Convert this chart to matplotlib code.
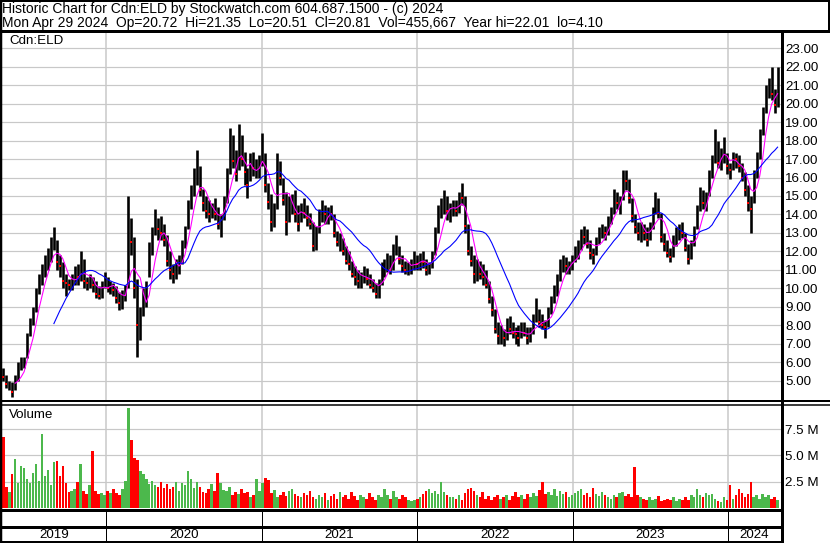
import numpy as np
import pandas as pd
import matplotlib
matplotlib.use('Agg')
import matplotlib.pyplot as plt

plt.rcParams['font.family'] = ['Liberation Sans', 'DejaVu Sans']

# weekly bars, May 2019 - Apr 2024
week_hi = [5.7, 5.3, 5.0, 4.9, 5.3, 6.0, 6.3, 6.3, 7.6, 8.4,
           9.0, 10.0, 10.8, 11.3, 11.8, 12.2, 12.8, 13.3, 12.6, 11.8,
           11.4, 10.8, 10.5, 10.8, 11.2, 11.3, 12.0, 11.6, 10.6, 10.8,
           10.6, 10.4, 10.1, 10.4, 10.9, 10.6, 10.4, 10.3, 10.1, 9.8,
           9.9, 10.2, 15.0, 13.8, 12.8, 10.5, 9.0, 10.0, 10.4, 12.5,
           13.3, 14.3, 13.8,
           13.9, 13.5, 12.9, 12.0, 11.3, 11.6, 11.8, 12.6, 13.4, 14.8,
           15.6, 16.5, 17.5, 16.6, 15.4, 15.0, 14.8, 14.6, 14.9, 14.4,
           14.0, 15.0, 16.5, 18.7, 18.3, 17.5, 18.9, 18.3, 17.4, 16.5,
           17.3, 17.4, 17.0, 17.2, 18.4, 17.3, 15.7, 15.1, 14.6, 17.3,
           16.9, 16.0, 15.2, 15.0, 15.1, 15.3, 14.5, 14.6, 14.9, 14.5, 14.1, 13.6,
           13.4, 14.3, 14.8, 14.5, 14.4, 14.5, 14.0, 13.1, 13.0, 12.7,
           12.3, 12.0, 11.5, 11.2, 11.0, 10.9, 11.2, 11.1, 10.8, 10.5,
           10.3, 10.5, 11.4, 11.6, 11.9, 11.8, 12.4, 12.9, 12.3, 11.8,
           11.5, 11.4, 11.6, 12.0, 11.8, 11.9, 12.0, 11.6, 11.4, 12.0,
           13.3, 14.5, 14.9, 15.3, 15.0, 14.6, 14.8, 14.8, 15.2, 15.7, 15.0, 13.5,
           12.3, 11.8, 11.6, 11.5, 11.3, 11.0, 10.4, 9.6, 8.9, 8.2,
           8.0, 7.8, 8.4, 8.5, 8.2, 7.9, 8.0, 8.2, 8.2, 7.9,
           7.9, 8.6, 9.5, 8.9, 8.6, 8.3, 9.0, 9.6, 10.2, 10.8,
           11.6, 11.8, 11.7, 11.5, 11.8, 12.3, 12.6, 13.2, 13.4, 13.2,
           12.6, 12.2, 12.8, 13.3, 13.5, 13.4, 13.9, 14.4, 15.4, 15.2, 15.0, 16.4,
           16.4, 15.9, 14.9, 14.0, 13.6, 13.6, 13.5, 13.3, 13.6, 14.4,
           15.2, 14.9, 14.1, 13.0, 12.6, 12.2, 12.9, 13.3, 13.5, 13.6,
           13.0, 12.4, 12.6, 13.4, 14.5, 15.5, 15.3, 15.2, 16.4, 17.2,
           18.6, 18.0, 17.6, 18.2, 17.3, 16.8, 17.4, 17.3, 17.2, 16.8,
           16.3, 15.6, 15.0, 16.4, 17.4, 18.6, 19.8, 21.0, 21.4, 22.0, 20.8, 22.0]

week_lo = [5.0, 4.6, 4.5, 4.1, 4.5, 5.0, 5.6, 5.7, 6.2, 7.4,
           8.0, 8.7, 9.7, 10.2, 10.6, 11.0, 11.4, 12.1, 11.0, 10.6,
           10.0, 9.6, 9.9, 9.9, 10.2, 10.2, 10.4, 10.0, 9.9, 10.0,
           9.8, 9.5, 9.4, 9.5, 10.0, 9.8, 9.7, 9.6, 9.2, 8.8,
           8.9, 9.3, 10.0, 11.8, 9.5, 6.3, 7.2, 8.5, 9.0, 10.6,
           11.8, 12.9, 12.6,
           12.6, 12.3, 11.2, 10.5, 10.3, 10.5, 10.8, 11.3, 12.2, 13.2,
           14.3, 15.0, 15.6, 15.0, 14.2, 13.8, 13.6, 13.8, 13.7, 13.2,
           12.8, 13.7, 14.6, 16.2, 16.5, 15.8, 16.4, 16.6, 15.6, 14.9,
           15.8, 16.1, 16.0, 16.0, 16.6, 15.2, 14.3, 13.1, 13.3, 14.3,
           15.6, 14.5, 12.9, 13.6, 14.0, 13.6, 13.1, 13.6, 13.8, 13.4, 13.2, 12.0,
           12.1, 13.0, 13.6, 13.5, 13.5, 13.7, 12.8, 12.3, 12.0, 11.8,
           11.3, 11.0, 10.6, 10.2, 10.0, 10.0, 10.3, 10.2, 10.0, 9.8,
           9.5, 9.5, 10.2, 10.6, 10.9, 10.8, 11.0, 11.8, 11.3, 10.9,
           10.8, 10.7, 10.8, 11.0, 11.0, 11.0, 11.1, 10.7, 10.8, 11.1,
           11.8, 13.0, 13.8, 14.0, 13.7, 13.6, 13.9, 13.9, 14.1, 14.5, 13.0, 11.8,
           11.2, 10.3, 10.4, 10.5, 10.2, 10.0, 9.2, 8.5, 7.6, 7.0,
           7.0, 6.9, 7.2, 7.5, 7.3, 7.0, 6.9, 7.3, 7.4, 7.0,
           7.1, 7.5, 8.2, 7.9, 7.8, 7.3, 7.9, 8.6, 9.2, 9.6,
           10.4, 10.9, 10.8, 10.8, 11.0, 11.4, 11.6, 12.1, 12.4, 12.2,
           11.6, 11.3, 11.8, 12.4, 12.7, 12.6, 12.9, 13.5, 14.0, 14.3, 14.0, 14.8,
           15.3, 14.6, 13.6, 13.0, 12.6, 12.5, 12.6, 12.3, 12.6, 13.2,
           14.0, 13.8, 12.5, 12.0, 11.7, 11.4, 11.7, 12.3, 12.6, 12.7,
           12.0, 11.3, 11.6, 12.3, 13.2, 14.2, 14.3, 14.2, 15.0, 16.0,
           16.8, 16.5, 16.4, 16.8, 16.2, 15.9, 16.4, 16.5, 16.3, 15.8,
           15.0, 14.2, 13.0, 14.6, 16.0, 17.0, 18.3, 19.5, 20.3, 20.2, 19.5, 19.8]

week_cl = [5.2, 4.8, 4.8, 4.4, 5.1, 5.8, 5.9, 6.2, 7.5, 8.1,
           8.8, 9.8, 10.3, 10.8, 11.5, 11.6, 12.5, 12.5, 11.4, 11.2,
           10.4, 10.3, 10.2, 10.5, 10.9, 10.6, 11.6, 10.4, 10.3, 10.4,
           10.2, 9.7, 9.6, 10.2, 10.6, 10.0, 10.1, 9.9, 9.5, 9.2,
           9.5, 9.9, 13.5, 12.5, 10.0, 8.0, 8.8, 9.5, 9.9, 12.0,
           12.8, 13.4, 13.2,
           13.0, 12.6, 11.5, 11.0, 10.8, 11.2, 11.5, 12.4, 13.2, 14.5,
           15.2, 16.0, 16.2, 15.3, 14.6, 14.2, 14.0, 14.3, 14.0, 13.5,
           13.8, 14.8, 16.3, 17.8, 16.9, 16.2, 18.0, 17.0, 16.3, 15.6,
           16.9, 16.5, 16.6, 16.9, 17.5, 15.6, 14.7, 13.6, 14.4, 16.8,
           16.0, 14.8, 13.6, 14.5, 14.5, 14.0, 13.5, 14.2, 14.1, 13.8, 13.5, 12.3,
           13.0, 14.0, 14.1, 14.0, 14.1, 14.0, 13.0, 12.5, 12.6, 12.0,
           11.5, 11.3, 10.8, 10.6, 10.4, 10.6, 10.9, 10.5, 10.2, 10.0,
           9.7, 10.3, 11.1, 11.2, 11.6, 11.0, 12.0, 12.2, 11.6, 11.2,
           11.0, 11.1, 11.3, 11.8, 11.3, 11.6, 11.4, 11.0, 11.2, 11.8,
           13.0, 14.2, 14.3, 14.5, 14.2, 14.3, 14.5, 14.2, 15.0, 14.9, 13.4, 12.0,
           11.5, 10.8, 11.0, 10.8, 10.6, 10.2, 9.4, 8.8, 7.8, 7.4,
           7.4, 7.3, 8.1, 7.8, 7.6, 7.5, 7.3, 7.9, 7.6, 7.3,
           7.6, 8.3, 8.6, 8.2, 8.0, 7.9, 8.8, 9.3, 9.9, 10.5,
           11.2, 11.4, 11.2, 11.3, 11.6, 12.0, 12.2, 12.9, 12.8, 12.4,
           11.9, 11.8, 12.6, 13.0, 13.1, 13.0, 13.7, 14.2, 15.1, 14.6, 14.8, 16.0,
           15.8, 14.9, 13.9, 13.3, 13.0, 13.2, 13.0, 12.6, 13.4, 14.0,
           14.6, 14.1, 12.8, 12.4, 11.9, 11.7, 12.6, 12.9, 13.1, 13.0,
           12.2, 11.6, 12.4, 13.2, 14.3, 15.1, 14.6, 14.9, 16.1, 17.0,
           17.8, 16.8, 17.2, 17.5, 16.6, 16.4, 17.1, 17.0, 16.6, 16.0,
           15.3, 14.6, 14.3, 16.0, 17.1, 18.4, 19.5, 20.7, 20.8, 20.5, 19.9, 20.8]

# biggest daily volume seen in each week, millions
week_vol = [6.8, 2.0, 1.5, 3.2, 4.7, 2.4, 4.0, 3.8, 2.8, 2.4, 3.3,
            4.2, 2.6, 7.0, 3.0, 3.6, 2.2, 4.4, 4.5, 3.0,
            4.0, 2.4, 1.5, 1.6, 1.8, 2.5, 4.2, 1.6, 1.3, 2.2, 5.4,
            1.6, 1.3, 1.4, 1.2, 1.6, 1.4, 1.8, 1.4, 1.2, 1.8,
            2.6, 9.5, 6.5, 4.8, 4.6, 3.5, 3.2, 2.8, 2.3,
            2.6, 2.2, 2.0, 2.5, 1.9,
            2.3, 1.8, 2.0, 2.5, 1.6, 2.4, 2.2, 3.5, 2.8, 1.9, 2.5, 2.0,
            1.5, 1.4, 1.8, 2.3, 1.6, 3.3, 2.4, 1.7, 1.6, 2.0, 1.2, 1.5,
            1.3, 1.8, 1.4, 1.5, 1.0, 1.2, 2.8, 1.6, 2.4, 2.9, 2.7, 1.4,
            1.7, 1.0, 1.2, 1.5, 1.1, 1.6, 1.8, 1.3, 1.1, 1.0, 1.4, 1.2,
            1.6, 1.0, 0.9, 1.2, 1.0, 1.4, 0.8, 1.1, 1.3, 0.9, 1.5, 1.0,
            1.2, 0.9, 1.5, 1.1, 0.8, 1.2, 1.0, 0.9, 1.4, 1.0, 0.8, 1.2,
            1.0, 1.8, 1.2, 0.9, 1.6, 1.0, 0.9, 1.2, 1.0, 0.8, 0.7, 0.8,
            0.9, 1.0, 1.3, 1.6, 1.8, 1.4, 1.6, 1.3, 2.5, 1.5, 1.2, 1.0,
            1.0, 0.9, 1.2, 0.8, 1.4, 1.8, 1.9, 1.6, 1.2, 1.0, 1.5, 0.9,
            1.1, 0.8, 1.0, 1.2, 0.9, 1.0, 1.2, 0.8, 1.1, 1.5, 1.0, 1.2,
            0.9, 1.3, 1.0, 1.4, 1.1, 1.7, 2.5, 1.3, 1.5, 1.2, 1.8, 1.1,
            1.6, 1.3, 1.5, 1.0, 1.2, 1.4, 1.6, 1.8, 1.2, 1.4, 1.0, 1.9,
            1.3, 1.1, 1.5, 1.2, 1.0, 0.9, 1.2, 1.0, 1.4, 1.5, 1.1, 1.3,
            1.0, 3.9, 1.2, 1.0, 0.9, 0.8, 1.0, 0.8, 0.9, 1.1, 0.7, 0.8,
            0.9, 0.8, 1.0, 0.7, 0.9, 0.8, 1.0, 0.8, 1.2, 1.0, 1.8, 1.2,
            1.0, 1.4, 1.2, 1.3, 0.9, 0.7, 0.6, 1.0, 0.8, 2.2, 0.9, 1.2,
            1.8, 1.4, 1.0, 1.3, 2.5, 1.0,
            1.2, 0.9, 1.3, 1.0, 1.2, 0.9, 1.0, 0.8]

years = [2019, 2020, 2021, 2022, 2023, 2024]
price_ticks = list(range(5, 24))
vol_ticks = [2.5, 5.0, 7.5]
vol_tick_labels = ['2.5 M', '5.0 M', '7.5 M']

header_1 = 'Historic Chart for Cdn:ELD by Stockwatch.com 604.687.1500 - (c) 2024'
header_2 = ('Mon Apr 29 2024  Op=20.72  Hi=21.35  Lo=20.51  Cl=20.81  '
            'Vol=455,667  Year hi=22.01  lo=4.10')

W, H = 830, 543
PX = 0.72  # one pixel in points at dpi 100
GRID = '#c8c8c8'
FS = 9.6


def px_rect(x0, y0, x1, y1):
    return [x0 / W, 1 - y1 / H, (x1 - x0) / W, (y1 - y0) / H]


dates = pd.date_range('2019-05-05', '2024-04-26', periods=len(week_cl))
cl = pd.Series(week_cl)
ma_short = cl.rolling(5).mean()
ma_long = cl.rolling(18).mean()
down = np.r_[True, np.diff(week_cl) < 0]

x_left, x_right = pd.Timestamp('2019-05-02'), pd.Timestamp('2024-05-04')
year_starts = [pd.Timestamp(f'{y}-01-01') for y in years[1:]]

fig = plt.figure(figsize=(W / 100, H / 100), dpi=100)
fig.patch.set_facecolor('white')

# price panel
ax = fig.add_axes(px_rect(2, 32, 781, 400))
ax.set_xlim(x_left, x_right)
ax.set_ylim(3.95, 23.88)
for p in price_ticks:
    ax.axhline(p, color=GRID, lw=1.2 * PX, zorder=0)
for d in year_starts:
    ax.axvline(d, color=GRID, lw=1.5 * PX, zorder=0)
ax.vlines(dates, week_lo, week_hi, color='black', lw=2.6 * PX, zorder=2)
ax.scatter(dates[down], np.array(week_cl)[down], marker='s', s=2.2,
           color='red', linewidths=0, zorder=3)
ax.plot(dates, ma_short, color='#ff00ff', lw=1.1 * PX, zorder=4)
ax.plot(dates, ma_long, color='#0000ff', lw=1.1 * PX, zorder=4)
ax.yaxis.tick_right()
ax.set_yticks(price_ticks)
ax.set_yticklabels([f'{p:.2f}' for p in price_ticks])
ax.tick_params(axis='y', length=0, pad=3, labelsize=FS)
ax.set_xticks([])
for s in ax.spines.values():
    s.set_visible(False)
ax.text(0.009, 0.975, 'Cdn:ELD', transform=ax.transAxes, fontsize=FS, va='center')

# volume panel
axv = fig.add_axes(px_rect(2, 405, 781, 508))
axv.set_xlim(x_left, x_right)
axv.set_ylim(0, 9.8)
for v in vol_ticks:
    axv.axhline(v, color=GRID, lw=1.2 * PX, zorder=0)
for d in year_starts:
    axv.axvline(d, color=GRID, lw=1.5 * PX, zorder=0)
colors = ['#ff0000' if dn else '#4cb84c' for dn in down]
axv.bar(dates, week_vol, width=6, color=colors, linewidth=0, zorder=2)
axv.yaxis.tick_right()
axv.set_yticks(vol_ticks)
axv.set_yticklabels(vol_tick_labels)
axv.tick_params(axis='y', length=0, pad=3, labelsize=FS)
axv.set_xticks([])
for s in axv.spines.values():
    s.set_visible(False)
axv.text(0.009, 0.9, 'Volume', transform=axv.transAxes, fontsize=FS, va='center')

# year strip
axy = fig.add_axes(px_rect(2, 510, 781, 543))
axy.set_xlim(x_left, x_right)
axy.set_ylim(0, 1)
axy.axis('off')
for d in year_starts:
    axy.axvline(d, color='black', lw=1 * PX)
for y in years:
    a = max(pd.Timestamp(f'{y}-01-01'), x_left)
    b = min(pd.Timestamp(f'{y + 1}-01-01'), x_right)
    axy.text(a + (b - a) / 2, 0.24, str(y), ha='center', va='center', fontsize=FS)

# frame lines and header, in pixels
ov = fig.add_axes([0, 0, 1, 1], zorder=10)
ov.set_xlim(0, W)
ov.set_ylim(H, 0)
ov.axis('off')
ov.patch.set_alpha(0)
frame = [
    ((0, W), (1, 1), 2), ((828.5, 828.5), (0, 31), 2), ((1, 1), (0, H), 2.5),
    ((0, W), (31, 31), 3), ((781.5, 781.5), (31, H), 3),
    ((0, W), (401, 401), 2), ((0, W), (404.5, 404.5), 1.5),
    ((0, 781), (509.5, 509.5), 3), ((0, 781), (527, 527), 3), ((0, 781), (541.5, 541.5), 2),
]
for xs, ys, w in frame:
    ov.plot(xs, ys, color='black', lw=w * PX, solid_capstyle='butt')
ov.text(2, 9.5, header_1, fontsize=10, va='center')
ov.text(2, 23, header_2, fontsize=10, va='center')

fig.savefig('out.png', dpi=100)
